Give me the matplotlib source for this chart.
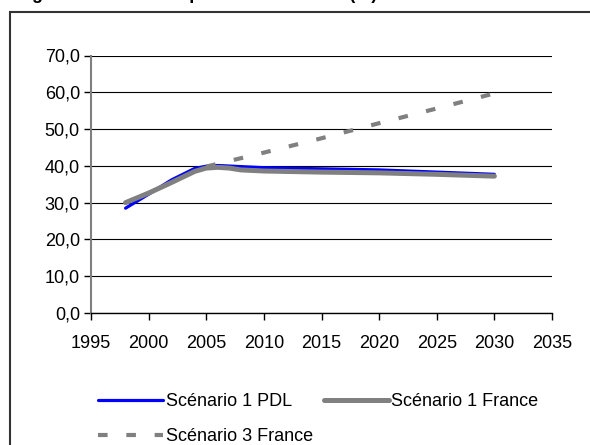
import matplotlib
matplotlib.use('Agg')
import matplotlib.pyplot as plt
from matplotlib.patches import Rectangle

plt.rcParams['font.family'] = ['Liberation Sans', 'DejaVu Sans']

years_pdl = [1998, 2000, 2002, 2004, 2005, 2006, 2008, 2010, 2015, 2020, 2025, 2030]
pdl_s1 = [28.5, 32.3, 36.2, 39.3, 39.9, 40.1, 39.8, 39.5, 39.2, 38.9, 38.3, 37.7]

years_fr = [1998, 2000, 2002, 2004, 2005, 2006, 2007, 2008, 2010, 2015, 2020, 2025, 2030]
france_s1 = [30.0, 32.6, 35.5, 38.5, 39.4, 39.6, 39.4, 38.9, 38.6, 38.3, 38.1, 37.7, 37.2]

years_s3 = [2005, 2010, 2015, 2020, 2025, 2030]
france_s3 = [39.8, 43.6, 47.5, 51.6, 55.6, 59.7]

x_ticks = [1995, 2000, 2005, 2010, 2015, 2020, 2025, 2030, 2035]
y_ticks = [0, 10, 20, 30, 40, 50, 60, 70]
y_labels = ['0,0', '10,0', '20,0', '30,0', '40,0', '50,0', '60,0', '70,0']

FONTSIZE = 13

fig = plt.figure(figsize=(5.9, 4.45), dpi=100)
ax = fig.add_axes([91 / 590, 1 - 313 / 445, (552 - 91) / 590, (313 - 55.5) / 445])

# outer chart frame (cut by the image edges)
fig.patches.append(Rectangle((10 / 590, -0.2), 1.2, 1.2 - 12 / 445,
                             transform=fig.transFigure, fill=False,
                             edgecolor='#333333', linewidth=1.5))

# title, mostly cut off at the top
fig.text(16 / 590, 1.003, "Figure 3 : Taux d'emploi des 55-64 ans (%)",
         fontsize=FONTSIZE, fontweight='bold', va='baseline', ha='left')

l1, = ax.plot(years_pdl, pdl_s1, color='#0000ff', linewidth=2.3,
              solid_capstyle='round', label='Scénario 1 PDL', zorder=3)
l2, = ax.plot(years_fr, france_s1, color='#808080', linewidth=3.6,
              solid_capstyle='round', label='Scénario 1 France', zorder=4)
l3, = ax.plot(years_s3, france_s3, color='#808080', linewidth=3.0,
              dashes=(2.3, 4.5), dash_capstyle='butt', label='Scénario 3 France', zorder=5)

ax.set_xlim(1995, 2035)
ax.set_ylim(0, 70)
ax.set_xticks(x_ticks)
ax.set_yticks(y_ticks)
ax.set_yticklabels(y_labels)
ax.tick_params(axis='both', which='major', labelsize=FONTSIZE, direction='out',
               length=5, width=1, pad=3)
ax.tick_params(axis='x', pad=11)
ax.grid(axis='y', color='black', linewidth=0.8)
ax.set_axisbelow(True)
for side in ['top', 'right']:
    ax.spines[side].set_visible(False)
ax.spines['left'].set_color('#808080')
ax.spines['left'].set_linewidth(1.5)
ax.spines['bottom'].set_color('black')
ax.spines['bottom'].set_linewidth(1)

fig.legend([l1, l3, l2], ['Scénario 1 PDL', 'Scénario 3 France', 'Scénario 1 France'],
           ncol=2, loc='upper left', bbox_to_anchor=(98 / 590, 1 - 393 / 445),
           frameon=False, fontsize=FONTSIZE, handlelength=3.6, handletextpad=0.15,
           columnspacing=0.6, labelspacing=1.0, borderpad=0, borderaxespad=0)

plt.savefig('out.png', dpi=100)
